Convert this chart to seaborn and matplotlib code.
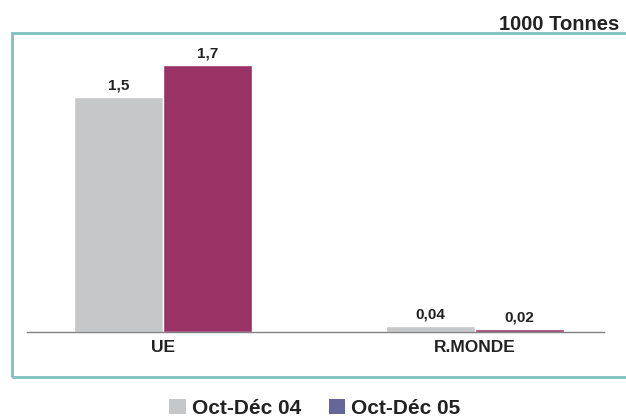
import matplotlib
matplotlib.use("Agg")
import matplotlib.pyplot as plt
import seaborn as sns
import pandas as pd
from matplotlib.patches import Patch, Rectangle

categories = ["UE", "R.MONDE"]
series_names = ["Oct-Déc 04", "Oct-Déc 05"]
values_04 = [1.5, 0.04]
values_05 = [1.7, 0.02]
unit_label = "1000 Tonnes"

bar_colors = ["#C6C7C9", "#993366"]
legend_colors = ["#C6C7C9", "#666699"]

df = pd.DataFrame({
    "cat": categories * 2,
    "serie": [series_names[0]] * 2 + [series_names[1]] * 2,
    "val": values_04 + values_05,
})

sns.set_style("white")
plt.rcParams["font.family"] = ["Liberation Sans", "DejaVu Sans"]

fig = plt.figure(figsize=(6.26, 4.17), dpi=100)
ax = fig.add_axes([27/626, 85/417, 577/626, 292/417])

sns.barplot(data=df, x="cat", y="val", hue="serie", order=categories,
            hue_order=series_names, palette=bar_colors, width=0.57,
            saturation=1, ax=ax, legend=False, errorbar=None)

for cont in ax.containers:
    labs = [str(round(b.get_height(), 2)).replace(".", ",") for b in cont]
    ax.bar_label(cont, labels=labs, padding=3, fontsize=11, fontweight="bold",
                 color="#222222")

ax.set_xlim(-0.436, 1.413)
ax.set_ylim(0, 1.86)
ax.set_yticks([])
ax.set_xlabel("")
ax.set_ylabel("")
for s in ["top", "right", "left"]:
    ax.spines[s].set_visible(False)
ax.spines["bottom"].set_color("#808080")
ax.spines["bottom"].set_linewidth(1)
ax.set_xticks([-0.436, 0.5, 1.413], minor=True)
ax.tick_params(axis="x", which="minor", length=4, color="#808080", direction="out", width=1)
ax.tick_params(axis="x", which="major", length=0, pad=6)
for t in ax.get_xticklabels():
    t.set_fontweight("bold")
    t.set_fontsize(12.5)
    t.set_color("#222222")

frame = Rectangle((12/626, 40/417), 1.0, 344/417, transform=fig.transFigure,
                  fill=False, edgecolor="#7FBFBF", linewidth=2, clip_on=False)
fig.patches.append(frame)

fig.text(619/626, 1 - 24/417, unit_label, ha="right", va="center",
         fontsize=14.5, fontweight="bold", color="#222222")

handles = [Patch(facecolor=c, edgecolor="none") for c in legend_colors]
leg = fig.legend(handles, series_names, loc="center", bbox_to_anchor=(315/626, 1 - 408/417),
                 ncol=2, frameon=False, handlelength=0.8, handleheight=0.75,
                 handletextpad=0.3, columnspacing=1.3,
                 prop={"weight": "bold", "size": 15})
for t in leg.get_texts():
    t.set_color("#222222")

fig.savefig("out.png", dpi=100)
